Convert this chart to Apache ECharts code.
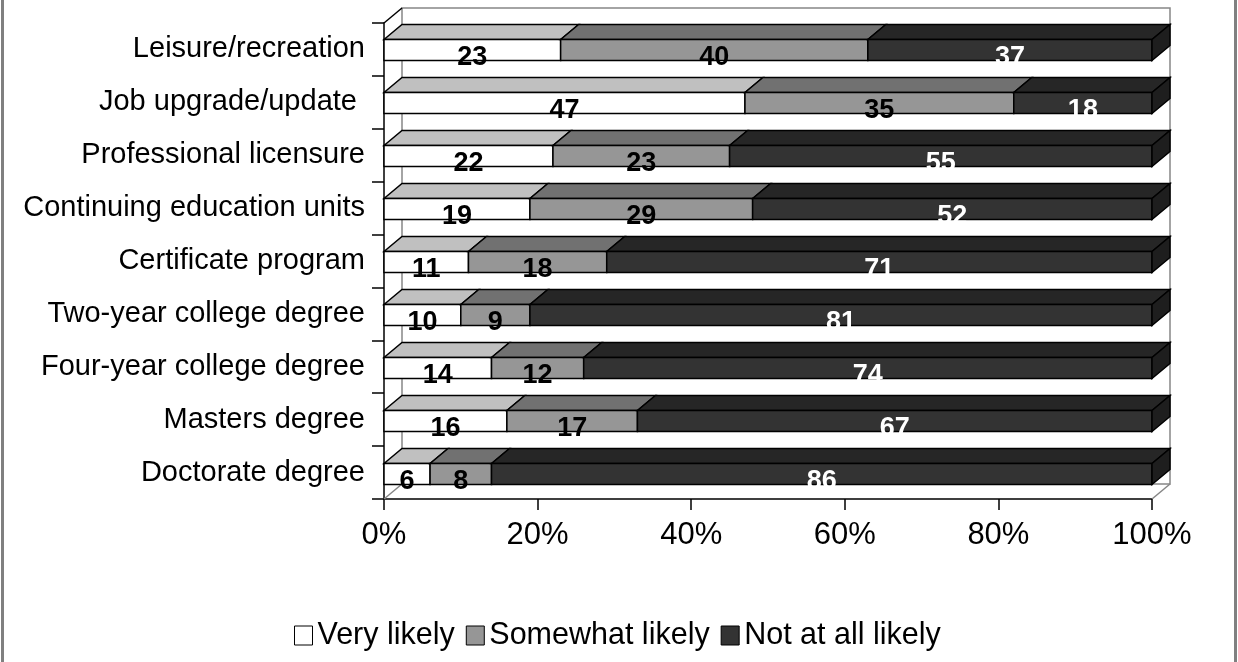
<!DOCTYPE html>
<html>
<head>
<meta charset="utf-8">
<script src="https://cdn.jsdelivr.net/npm/echarts@6/dist/echarts.min.js"></script>
<style>
  html, body { margin: 0; padding: 0; background: #fff; }
  #chart { width: 1238px; height: 662px; }
</style>
</head>
<body>
<div id="chart"></div>
<script>
// Purposes for further study, top to bottom
const categories = [
  'Leisure/recreation',
  'Job upgrade/update ',
  'Professional licensure',
  'Continuing education units',
  'Certificate program',
  'Two-year college degree',
  'Four-year college degree',
  'Masters degree',
  'Doctorate degree'
];

// Percent of respondents per answer
const veryLikely     = [23, 47, 22, 19, 11, 10, 14, 16, 6];
const somewhatLikely = [40, 35, 23, 29, 18, 9, 12, 17, 8];
const notLikely      = [37, 18, 55, 52, 71, 81, 74, 67, 86];

const seriesNames = ['Very likely', 'Somewhat likely', 'Not at all likely'];
const xTickStep = 20;

const FONT = '"Liberation Sans", Arial, Helvetica, sans-serif';
// Oblique depth of the 3-D bars and walls, in pixels
const DX = 18, DY = 15;
const BAR_FRONT_H = 21;

const faces = [
  { front: '#ffffff', top: '#c0c0c0', side: '#a6a6a6', label: '#000000' },
  { front: '#969696', top: '#717171', side: '#5c5c5c', label: '#000000' },
  { front: '#333333', top: '#262626', side: '#1e1e1e', label: '#ffffff' }
];

// Stack the three answers: each item is [category, start, end, value]
const groups = [veryLikely, somewhatLikely, notLikely];
const stacked = groups.map(() => []);
categories.forEach((c, i) => {
  let acc = 0;
  groups.forEach((g, k) => {
    stacked[k].push([i, acc, acc + g[i], g[i]]);
    acc += g[i];
  });
});

function barRenderer(k, isLast) {
  const f = faces[k];
  return function (params, api) {
    const cat = api.value(0);
    const p0 = api.coord([api.value(1), cat]);
    const p1 = api.coord([api.value(2), cat]);
    const top = Math.round(p0[1] - 10) + 0.5;
    const bottom = top + BAR_FRONT_H;
    const xl = p0[0], xr = p1[0];
    const line = { stroke: '#000', lineWidth: 1.5, lineJoin: 'miter' };
    const children = [
      {
        type: 'polygon',
        shape: { points: [[xl, top], [xl + DX, top - DY], [xr + DX, top - DY], [xr, top]] },
        style: Object.assign({ fill: f.top }, line)
      },
      {
        type: 'rect',
        shape: { x: xl, y: top, width: xr - xl, height: BAR_FRONT_H },
        style: Object.assign({ fill: f.front }, line)
      }
    ];
    if (isLast) {
      children.push({
        type: 'polygon',
        shape: { points: [[xr, top], [xr + DX, top - DY], [xr + DX, bottom - DY], [xr, bottom]] },
        style: Object.assign({ fill: f.side }, line)
      });
    }
    children.push({
      type: 'text',
      x: (xl + xr) / 2,
      y: (top + bottom) / 2 + 8,
      z2: 10,
      style: {
        text: String(api.value(3)),
        fill: f.label,
        font: 'bold 27px ' + FONT,
        align: 'center',
        verticalAlign: 'middle'
      }
    });
    return { type: 'group', children: children };
  };
}

// Back wall, side edges and floor edges of the 3-D plot box
function frameRenderer(params, api) {
  const cs = params.coordSys;
  const gx = cs.x, gy = cs.y, gw = cs.width, gh = cs.height;
  const gray = { stroke: '#868686', lineWidth: 1.5, fill: null };
  return {
    type: 'group',
    children: [
      { type: 'rect', shape: { x: gx + DX, y: gy - DY, width: gw, height: gh },
        style: { fill: '#fff', stroke: '#868686', lineWidth: 1.5 } },
      { type: 'line', shape: { x1: gx, y1: gy, x2: gx + DX, y2: gy - DY },
        style: { stroke: '#000', lineWidth: 1.5 } },
      { type: 'line', shape: { x1: gx, y1: gy + gh, x2: gx + DX, y2: gy + gh - DY }, style: gray },
      { type: 'line', shape: { x1: gx + gw, y1: gy + gh, x2: gx + gw + DX, y2: gy + gh - DY }, style: gray }
    ]
  };
}

const chart = echarts.init(document.getElementById('chart'), null, { renderer: 'canvas' });

const series = [{
  type: 'custom',
  name: 'frame',
  silent: true,
  renderItem: frameRenderer,
  data: [[0, 0]],
  encode: { x: 0, y: 1 },
  z: 1
}];
seriesNames.forEach((name, k) => {
  series.push({
    type: 'custom',
    name: name,
    renderItem: barRenderer(k, k === seriesNames.length - 1),
    data: stacked[k],
    encode: { x: [1, 2], y: 0 },
    itemStyle: { color: faces[k].front, borderColor: '#000', borderWidth: 1 },
    z: 2
  });
});

chart.setOption({
  animation: false,
  backgroundColor: '#fff',
  textStyle: { fontFamily: FONT },
  grid: { left: 384, top: 23, width: 768, height: 476, containLabel: false },
  xAxis: {
    type: 'value',
    min: 0,
    max: 100,
    interval: xTickStep,
    axisLine: { show: true, lineStyle: { color: '#000', width: 1.5 } },
    axisTick: { show: true, length: 11, lineStyle: { color: '#000', width: 1.5 } },
    splitLine: { show: false },
    axisLabel: {
      formatter: '{value}%',
      color: '#000',
      fontSize: 31,
      fontFamily: FONT,
      margin: 21
    }
  },
  yAxis: {
    type: 'category',
    data: categories,
    inverse: true,
    axisLine: { show: true, lineStyle: { color: '#000', width: 1.5 } },
    axisTick: { show: true, length: 12, lineStyle: { color: '#000', width: 1.5 } },
    splitLine: { show: false },
    axisLabel: {
      color: '#000',
      fontSize: 29,
      fontFamily: FONT,
      margin: 19,
      padding: [0, 0, 10, 0]
    }
  },
  legend: {
    data: seriesNames,
    left: 294,
    top: 620,
    padding: 0,
    icon: 'rect',
    itemWidth: 18,
    itemHeight: 19,
    itemGap: 11,
    itemStyle: { borderColor: '#000', borderWidth: 1 },
    textStyle: { color: '#000', fontSize: 30.5, fontFamily: FONT }
  },
  graphic: [{
    type: 'rect',
    silent: true,
    z: 100,
    shape: { x: 2.5, y: -10, width: 1233, height: 690 },
    style: { fill: null, stroke: '#808080', lineWidth: 3 }
  }],
  series: series
});
</script>
</body>
</html>
